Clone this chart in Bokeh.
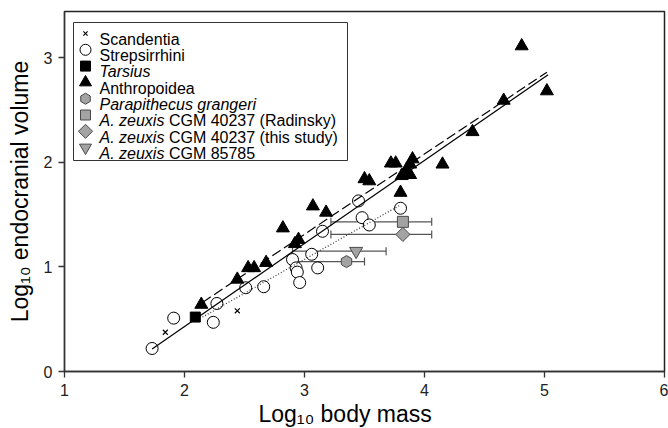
import math
from bokeh.plotting import figure
from bokeh.models import ColumnDataSource, Range1d, FixedTicker, Label, Whisker, TeeHead, Title
from bokeh.embed import file_html
from bokeh.resources import INLINE

# ---------------- data ----------------
scand_x = [1.84, 2.44]
scand_y = [0.375, 0.58]

strep_x = [1.73, 1.91, 2.24, 2.27, 2.51, 2.66, 2.90, 2.93, 2.94, 2.96, 3.06, 3.11, 3.15, 3.45, 3.48, 3.54, 3.80]
strep_y = [0.22, 0.51, 0.47, 0.65, 0.80, 0.81, 1.07, 0.99, 0.95, 0.85, 1.12, 0.99, 1.34, 1.63, 1.47, 1.40, 1.56]

tars_x = [2.09]
tars_y = [0.52]

anth_x = [2.14, 2.44, 2.53, 2.58, 2.68, 2.82, 2.92, 2.95, 3.07, 3.18, 3.50, 3.54, 3.72, 3.76,
          3.80, 3.81, 3.85, 3.88, 3.88, 3.90, 4.15, 4.40, 4.66, 4.81, 5.02]
anth_y = [0.64, 0.88, 0.99, 0.99, 1.04, 1.37, 1.22, 1.26, 1.58, 1.52, 1.84, 1.82, 1.99, 1.99,
          1.71, 1.87, 1.93, 1.88, 1.98, 2.03, 1.98, 2.29, 2.59, 3.11, 2.68]

para_x, para_y, para_lo, para_hi = [3.35], [1.05], [2.88], [3.50]
rad_x, rad_y, rad_lo, rad_hi = [3.82], [1.43], [3.22], [4.06]
this_x, this_y, this_lo, this_hi = [3.82], [1.31], [3.22], [4.06]
c85_x, c85_y, c85_lo, c85_hi = [3.43], [1.15], [2.90], [3.68]

# regression lines (end points)
all_line_x, all_line_y = [1.73, 5.03], [0.215, 2.835]
anth_line_x, anth_line_y = [2.15, 5.02], [0.66, 2.86]
strep_line_x, strep_line_y = [2.15, 3.79], [0.52, 1.585]

x_ticks = [1, 2, 3, 4, 5, 6]
y_ticks = [0, 1, 2, 3]

x_title = "Log\u2081\u2080 body mass"
y_title = "Log\u2081\u2080 endocranial volume"

legend_rows = [
    [("Scandentia", "normal")],
    [("Strepsirrhini", "normal")],
    [("Tarsius", "italic")],
    [("Anthropoidea", "normal")],
    [("Parapithecus grangeri", "italic")],
    [("A. zeuxis", "italic"), ("CGM 40237 (Radinsky)", "normal")],
    [("A. zeuxis", "italic"), ("CGM 40237 (this study)", "normal")],
    [("A. zeuxis", "italic"), ("CGM 85785", "normal")],
]

FONT = "Liberation Sans"
GRAY = "#a3a3a3"
GRAY_LINE = "#4a4a4a"

# ---------------- figure ----------------
p = figure(width=668, height=428, x_range=Range1d(1, 6), y_range=Range1d(0, 3.44),
           output_backend="svg", toolbar_location=None,
           min_border_left=64, min_border_right=4, min_border_top=11, min_border_bottom=57)
p.extra_x_ranges = {"px": Range1d(0, 600)}
p.extra_y_ranges = {"px": Range1d(0, 360)}

p.xgrid.visible = False
p.ygrid.visible = False
p.outline_line_color = "#222222"
p.outline_line_width = 1.5
p.outline_line_alpha = 1.0

p.xaxis.ticker = FixedTicker(ticks=x_ticks)
p.yaxis.ticker = FixedTicker(ticks=y_ticks)
for ax in (p.xaxis, p.yaxis):
    ax.minor_tick_line_color = None
    ax.major_tick_in = 0
    ax.major_tick_out = 6
    ax.axis_line_color = "#333333"
    ax.axis_line_width = 1.3
    ax.major_tick_line_color = "#333333"
    ax.major_tick_line_width = 1.3
    ax.major_label_text_font = FONT
    ax.major_label_text_font_size = "16px"
    ax.major_label_text_color = "#222222"
p.xaxis.major_label_standoff = 6
p.yaxis.major_label_standoff = 6

p.yaxis.axis_label = y_title
p.yaxis.axis_label_text_font = FONT
p.yaxis.axis_label_text_font_size = "23px"
p.yaxis.axis_label_text_font_style = "normal"
p.yaxis.axis_label_text_color = "black"
p.yaxis.axis_label_standoff = 8

p.add_layout(Title(text=x_title, align="left", offset=194, standoff=0,
                   text_font=FONT, text_font_size="23px", text_font_style="normal",
                   text_color="black"), "below")

# error bars (below markers)
for ys, lo, hi in [(para_y, para_lo, para_hi), (rad_y, rad_lo, rad_hi),
                   (this_y, this_lo, this_hi), (c85_y, c85_lo, c85_hi)]:
    src = ColumnDataSource(dict(base=ys, lower=lo, upper=hi))
    w = Whisker(source=src, base="base", lower="lower", upper="upper", dimension="width",
                line_color="#555555", line_width=1.2, level="underlay",
                upper_head=TeeHead(size=8, line_color="#555555", line_width=1.2),
                lower_head=TeeHead(size=8, line_color="#555555", line_width=1.2))
    p.add_layout(w)

p.scatter(strep_x, strep_y, marker="circle", size=12, fill_color="white", line_color="black", line_width=1)
p.scatter(anth_x, anth_y, marker="triangle", size=13, fill_color="black", line_color="black")
p.scatter(tars_x, tars_y, marker="square", size=10, fill_color="black", line_color="black")
p.scatter(scand_x, scand_y, marker="x", size=7, line_color="black", line_width=1.2)

p.line(all_line_x, all_line_y, line_color="black", line_width=1.2)
p.line(anth_line_x, anth_line_y, line_color="black", line_width=1.2, line_dash="10 4")
p.line(strep_line_x, strep_line_y, line_color="#333333", line_width=1.2, line_dash="1 2")

p.scatter(para_x, para_y, marker="hex", angle=math.pi / 2, size=12, fill_color=GRAY, line_color=GRAY_LINE)
p.scatter(rad_x, rad_y, marker="square", size=11, fill_color=GRAY, line_color=GRAY_LINE)
p.scatter(this_x, this_y, marker="square", angle=math.pi / 4, size=10, fill_color=GRAY, line_color=GRAY_LINE)
p.scatter(c85_x, c85_y, marker="inverted_triangle", size=13, fill_color=GRAY, line_color=GRAY_LINE)

# ---------------- legend (frame pixel coordinates) ----------------
p.quad(left=[9], right=[283], bottom=[211], top=[349], x_range_name="px", y_range_name="px",
       fill_color="white", line_color="#333333", line_width=1)
row_y = [338 - 16.3 * i for i in range(8)]
mk_x = 21
mk_specs = [
    dict(marker="x", size=6, line_color="black", line_width=1.1),
    dict(marker="circle", size=11, fill_color="white", line_color="black"),
    dict(marker="square", size=10, fill_color="black", line_color="black"),
    dict(marker="triangle", size=12, fill_color="black", line_color="black"),
    dict(marker="hex", angle=math.pi / 2, size=11, fill_color=GRAY, line_color=GRAY_LINE),
    dict(marker="square", size=10, fill_color=GRAY, line_color=GRAY_LINE),
    dict(marker="square", angle=math.pi / 4, size=10, fill_color=GRAY, line_color=GRAY_LINE),
    dict(marker="inverted_triangle", size=12, fill_color=GRAY, line_color=GRAY_LINE),
]
for i, spec in enumerate(mk_specs):
    p.scatter([mk_x], [row_y[i]], x_range_name="px", y_range_name="px", **spec)

for i, parts in enumerate(legend_rows):
    x0 = 35
    for text, style in parts:
        p.add_layout(Label(x=x0, y=row_y[i] - 5.7, x_units="screen", y_units="screen", text=text,
                           text_font=FONT, text_font_size="16px", text_font_style=style,
                           text_color="black", text_align="left", text_baseline="alphabetic"))
        x0 += 69.4

open("out.html", "w").write(file_html(p, INLINE))
